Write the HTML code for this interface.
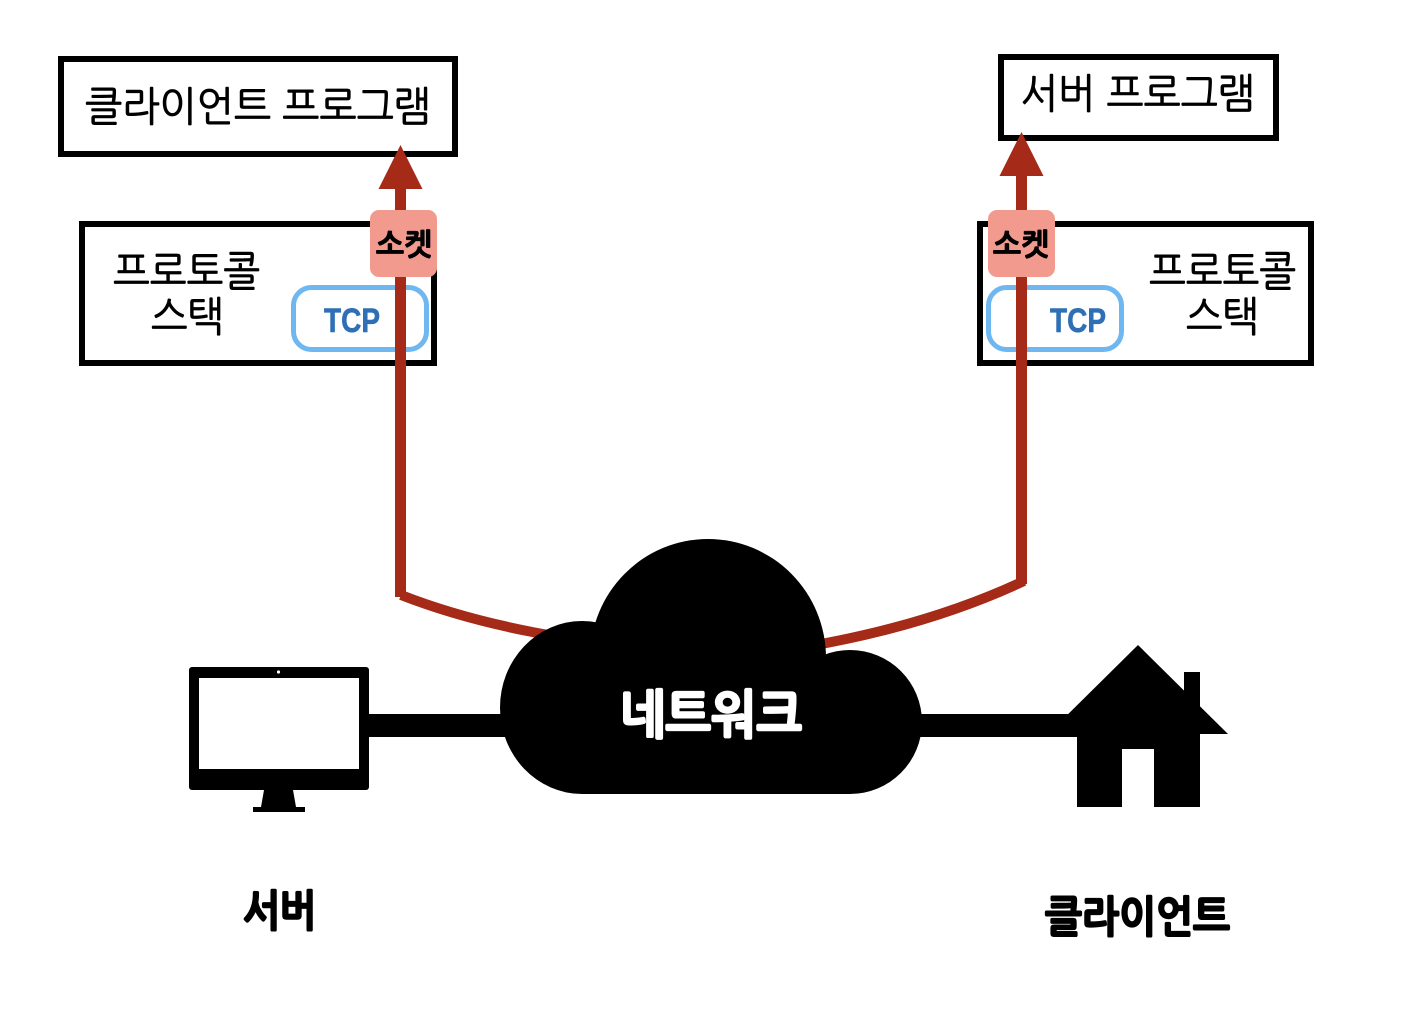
<!DOCTYPE html>
<html lang="ko">
<head>
<meta charset="utf-8">
<style>
html,body{margin:0;padding:0;background:#fff;width:1420px;height:1026px;overflow:hidden}
svg{display:block}
text{font-family:"Liberation Sans","NanumGothic","Noto Sans CJK KR",sans-serif}
.k{font-family:"NanumGothic","Noto Sans CJK KR",sans-serif}
.r{stroke:#000;stroke-width:.8}
.b{font-weight:700;stroke-linejoin:round;stroke-linecap:round}
</style>
</head>
<body>
<svg width="1420" height="1026" viewBox="0 0 1420 1026" xmlns="http://www.w3.org/2000/svg">
<rect width="1420" height="1026" fill="#fff"/>

<rect x="61" y="59" width="394" height="95" fill="#fff" stroke="#000" stroke-width="6"/>
<rect x="1001" y="57" width="275" height="81" fill="#fff" stroke="#000" stroke-width="6"/>
<rect x="82" y="224" width="352" height="139" fill="#fff" stroke="#000" stroke-width="6"/>
<rect x="980" y="224" width="331" height="139" fill="#fff" stroke="#000" stroke-width="6"/>

<rect x="293.500" y="287.500" width="133" height="62" rx="18" fill="#fff" stroke="#6fb7f0" stroke-width="5"/>
<rect x="988.500" y="287.500" width="133" height="62" rx="18" fill="#fff" stroke="#6fb7f0" stroke-width="5"/>

<text class="k r" x="85" y="121" font-size="41" textLength="346" lengthAdjust="spacingAndGlyphs" fill="#000">클라이언트 프로그램</text>
<text class="k r" x="1021" y="108" font-size="41" textLength="234" lengthAdjust="spacingAndGlyphs" fill="#000">서버 프로그램</text>
<text class="k r" x="113" y="286" font-size="41" textLength="147" lengthAdjust="spacingAndGlyphs" fill="#000">프로토콜</text>
<text class="k r" x="151" y="331" font-size="41" textLength="73" lengthAdjust="spacingAndGlyphs" fill="#000">스택</text>
<text class="k r" x="1149" y="286" font-size="41" textLength="147" lengthAdjust="spacingAndGlyphs" fill="#000">프로토콜</text>
<text class="k r" x="1186" y="331" font-size="41" textLength="73" lengthAdjust="spacingAndGlyphs" fill="#000">스택</text>

<text class="b" x="324" y="332" font-size="34" textLength="56" lengthAdjust="spacingAndGlyphs" fill="#2e6fb5" stroke="#2e6fb5" stroke-width=".6">TCP</text>
<text class="b" x="1050" y="332" font-size="34" textLength="56" lengthAdjust="spacingAndGlyphs" fill="#2e6fb5" stroke="#2e6fb5" stroke-width=".6">TCP</text>

<path d="M400.500 597V186" fill="none" stroke="#a52a17" stroke-width="11"/>
<polygon points="400.500,145 422.500,189 378.500,189" fill="#a52a17"/>
<path d="M1021.500 584V174" fill="none" stroke="#a52a17" stroke-width="11"/>
<polygon points="1021.500,132 1043.500,176 999.500,176" fill="#a52a17"/>
<path d="M401 595Q470 622 560 637" fill="none" stroke="#a52a17" stroke-width="10"/>
<path d="M1024 581Q930 625 810 646" fill="none" stroke="#a52a17" stroke-width="10"/>

<rect x="370" y="210" width="67" height="67" rx="9" fill="#f39a8e"/>
<rect x="988" y="210" width="67" height="67" rx="9" fill="#f39a8e"/>
<text class="k b" x="376" y="255" font-size="30" textLength="56" lengthAdjust="spacingAndGlyphs" fill="#000" stroke="#000" stroke-width="1">소켓</text>
<text class="k b" x="993" y="255" font-size="30" textLength="56" lengthAdjust="spacingAndGlyphs" fill="#000" stroke="#000" stroke-width="1">소켓</text>

<rect x="365" y="714" width="150" height="23" fill="#000"/>
<rect x="905" y="714" width="190" height="23" fill="#000"/>

<g fill="#000">
<ellipse cx="582" cy="707.500" rx="82" ry="86.500"/>
<ellipse cx="708" cy="658" rx="118" ry="119"/>
<circle cx="850" cy="722" r="72"/>
<rect x="582" y="660" width="268" height="134"/>
</g>
<text class="k b" x="620" y="733" font-size="52" textLength="182" lengthAdjust="spacingAndGlyphs" fill="#fff" stroke="#fff" stroke-width="2.500">네트워크</text>

<rect x="189" y="667" width="180" height="123" rx="3" fill="#000"/>
<rect x="199" y="678" width="160" height="91" fill="#fff"/>
<circle cx="278.500" cy="672" r="1.600" fill="#fff"/>
<polygon points="264,790 293,790 296,807 261,807" fill="#000"/>
<rect x="253" y="807" width="52" height="5" fill="#000"/>

<polygon points="1138,645 1048,734 1228,734" fill="#000"/>
<rect x="1184" y="672" width="16" height="60" fill="#000"/>
<rect x="1077" y="730" width="123" height="77" fill="#000"/>
<rect x="1122" y="749" width="32" height="58" fill="#fff"/>

<text class="k b" x="243" y="926" font-size="43" textLength="73" lengthAdjust="spacingAndGlyphs" fill="#000" stroke="#000" stroke-width="2">서버</text>
<text class="k b" x="1045" y="932" font-size="43" textLength="185" lengthAdjust="spacingAndGlyphs" fill="#000" stroke="#000" stroke-width="2">클라이언트</text>
</svg>
</body>
</html>
